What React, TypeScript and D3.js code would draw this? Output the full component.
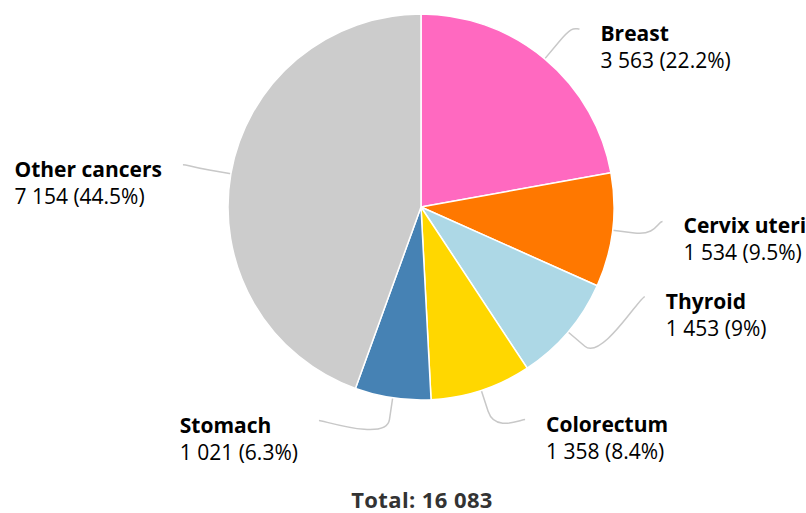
import * as d3 from 'd3';
import { useEffect, useRef } from 'react';

const categories = ['Breast', 'Cervix uteri', 'Thyroid', 'Colorectum', 'Stomach', 'Other cancers'];
const cases = [3563, 1534, 1453, 1358, 1021, 7154];
const colors = ['#ff69c0', '#ff7800', '#add8e6', '#ffd700', '#4682b4', '#cccccc'];
// vertical nudge of each label after spreading them apart
const labelShift = [-3, -13, -58, -4, -12, -3];

const W = 806, H = 513;
const cx = 421, cy = 207, radius = 193;
const FONT = "'Open Sans', 'Noto Sans', sans-serif";

const fmtNum = (n: number) => d3.format(',')(n).replace(/,/g, ' ');
const fmtPct = (v: number) => {
    const p = Math.round(v * 1000) / 10;
    return (p % 1 === 0 ? p.toFixed(0) : p.toFixed(1)) + '%';
};

const App = () => {
    const svgRef = useRef<SVGSVGElement>(null);

    useEffect(() => {
        const svg = d3.select(svgRef.current);
        svg.selectAll('*').remove();

        const total = d3.sum(cases);
        const pie = d3.pie<number>().sort(null).value(d => d);
        const slices = pie(cases);
        const arc = d3.arc<d3.PieArcDatum<number>>().innerRadius(0).outerRadius(radius);

        const at = (a: number, r: number) => [cx + r * Math.sin(a), cy - r * Math.cos(a)];

        // connectors first so slices sit on top
        const conn = svg.append('g');
        const labels = svg.append('g');

        svg.append('g')
            .attr('transform', `translate(${cx},${cy})`)
            .selectAll('path')
            .data(slices)
            .enter()
            .append('path')
            .attr('d', arc)
            .attr('fill', (d, i) => colors[i])
            .attr('stroke', '#fff')
            .attr('stroke-width', 1.5)
            .attr('stroke-linejoin', 'round');

        // labels sit on an ellipse around the pie
        const ex = radius + 49, ey = radius + 42.5;

        slices.forEach((s, i) => {
            const mid = (s.startAngle + s.endAngle) / 2;
            const right = Math.sin(mid) >= 0;
            const ly = cy - (radius + 35) * Math.cos(mid) + labelShift[i];
            const k = Math.min(1, Math.abs(ly - cy) / ey);
            const lx = cx + (right ? 1 : -1) * ex * Math.sqrt(1 - k * k);
            const [tx, ty] = at(mid, radius);
            const [bx, by] = at(mid, radius + 22);

            const p = d3.path();
            p.moveTo(lx, ly);
            p.bezierCurveTo(lx + (right ? -5 : 5), ly, 2 * bx - tx, 2 * by - ty, bx, by);
            p.lineTo(tx, ty);
            conn.append('path')
                .attr('d', p.toString())
                .attr('fill', 'none')
                .attr('stroke', '#c8c8c8')
                .attr('stroke-width', 1.5);

            const g = labels.append('g');
            const t = g.append('text')
                .attr('font-family', FONT)
                .attr('font-size', 21)
                .attr('fill', '#000');
            t.append('tspan')
                .attr('x', 0).attr('y', 12)
                .attr('font-weight', 'bold')
                .text(categories[i]);
            t.append('tspan')
                .attr('x', 0).attr('y', 39)
                .text(`${fmtNum(cases[i])} (${fmtPct(cases[i] / total)})`);

            const w = (t.node() as SVGTextElement).getBBox().width;
            const gx = right ? lx + 21 : lx - 21 - w;
            g.attr('transform', `translate(${gx},${ly})`);
        });

        svg.append('text')
            .attr('x', 422)
            .attr('y', 508)
            .attr('text-anchor', 'middle')
            .attr('font-family', FONT)
            .attr('font-size', 22)
            .attr('font-weight', 'bold')
            .attr('letter-spacing', 0.4)
            .attr('fill', '#333')
            .text(`Total: ${fmtNum(total)}`);

        return () => {
            svg.selectAll('*').remove();
        };
    }, []);

    return (
        <svg ref={svgRef} width={W} height={H}
            style={{ position: 'absolute', left: 0, top: 0, background: '#fff' }} />
    );
};

export default App;
